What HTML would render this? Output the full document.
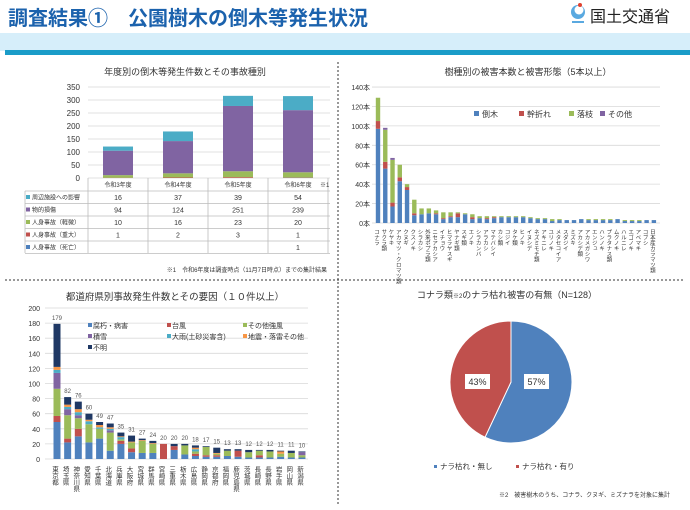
<!DOCTYPE html>
<html><head><meta charset="utf-8">
<style>
html,body{margin:0;padding:0;background:#fff;}
body{width:690px;height:505px;overflow:hidden;position:relative;font-family:"Liberation Sans","Noto Sans CJK JP",sans-serif;}
svg text{font-family:"Liberation Sans","Noto Sans CJK JP",sans-serif;}
</style></head><body>
<svg id="s" width="690" height="505" xmlns="http://www.w3.org/2000/svg">
<rect x="0" y="33" width="690" height="18" fill="#d6eefa"/>
<rect x="5" y="50" width="685" height="5" fill="#1a9cc8"/>
<text x="8" y="25" font-size="20" font-weight="bold" fill="#1b62ad">調査結果①　公園樹木の倒木等発生状況</text>
<circle cx="578" cy="12" r="7" fill="#5aa9e0"/>
<circle cx="579" cy="10" r="4.5" fill="#fff"/>
<circle cx="580" cy="5" r="2" fill="#e0412f"/>
<rect x="572" y="21" width="12" height="2" fill="#5aa9e0"/>
<text x="590" y="22" font-size="16" fill="#222">国土交通省</text>
<line x1="338" y1="62" x2="338" y2="505" stroke="#333" stroke-dasharray="2,2"/>
<line x1="5" y1="280" x2="685" y2="280" stroke="#333" stroke-dasharray="2,2"/>
<g id="g"></g>
</svg>
<script>
var g=document.getElementById('g'),h='';
function T(x,y,s,sz,a,c,ex){h+='<text x="'+x+'" y="'+y+'" font-size="'+sz+'" text-anchor="'+(a||'start')+'" fill="'+(c||'#333')+'" '+(ex||'')+'>'+s+'</text>';}
function R(x,y,w,hh,c){h+='<rect x="'+x+'" y="'+y+'" width="'+w+'" height="'+hh+'" fill="'+c+'"/>';}
function L(x1,y1,x2,y2,c){h+='<line x1="'+x1+'" y1="'+y1+'" x2="'+x2+'" y2="'+y2+'" stroke="'+(c||'#d9d9d9')+'" stroke-width="0.8"/>';}
var TE='#4bacc6',PU='#8064a2',GR='#9bbb59',RE='#c0504d',BL='#4f81bd',OR='#f79646',NV='#1f3864';
// chart1
T(185,75,'年度別の倒木等発生件数とその事故種別',9,'middle');
for(var v=0;v<=350;v+=50){var y=178-v*0.26;L(88,y,330,y);T(80,y+3,v,8,'end');}
var d1=[[0,1,10,94,16],[0,2,16,124,37],[0,3,23,251,39],[1,1,20,239,54]],cs=[BL,RE,GR,PU,TE];
[118,178,238,298].forEach(function(cx,i){var y=178;for(var k=0;k<5;k++){var hh=d1[i][k]*0.26;y-=hh;R(cx-15,y,30,hh,cs[k]);}});
// table
var rows=['周辺施設への影響','物的損傷','人身事故（軽微）','人身事故（重大）','人身事故（死亡）'],rc=[TE,PU,GR,RE,BL];
var tv=[['16','37','39','54'],['94','124','251','239'],['10','16','23','20'],['1','2','3','1'],['','','','1']];
L(88,178,88,253,'#bbb');for(var c=0;c<4;c++){L(148+60*c,178,148+60*c,253,'#bbb');T(118+60*c,187,['令和3年度','令和4年度','令和5年度','令和6年度'][c],6,'middle');}
T(320,187,'※1',6);
for(var r=0;r<5;r++){var y=191+r*12.5;L(25,y,330,y,'#bbb');R(26,y+4,4,4,rc[r]);T(32,y+8.5,rows[r],6);for(c=0;c<4;c++)T(118+60*c,y+9,tv[r][c],7,'middle');}
L(25,253.5,330,253.5,'#bbb');L(25,191,25,253,'#bbb');
T(327,272,'※1　令和6年度は調査時点（11月7日時点）までの集計結果',6,'end');
// chart2
T(528,75,'樹種別の被害本数と被害形態（5本以上）',9,'middle');
for(v=0;v<=140;v+=20){y=223-v*0.971;L(372,y,660,y);T(370,y+3,v+'本',7,'end');}
var n2=['コナラ','サクラ類','ケヤキ','アカマツ・クロマツ類','クヌギ','クスノキ','シラカシ','外来ポプラ類','ニセアカシア','イチョウ','ヒマラヤスギ','ヤナギ類','スギ類','エノキ','シラカンバ','アラカシ','マテバシイ','カシ類','コジイ','タケ類','ヒノキ','イヌシデ','ネズミモチ類','アキニレ','ユリノキ','メタセコイア','スダジイ','ミズキ','アカシデ類','アカメガシワ','エンジュ','ハンノキ','プラタナス類','ムクノキ','ハルニレ','エゴノキ','アベマキ','コブシ','日本産カラマツ類'];
var d2=[[97,8,24,0],[56,7,33,2],[17,4,44,2],[43,4,13,0],[34,3,3,0],[8,2,14,0],[9,0,6,0],[10,0,5,0],[9,1,3,0],[4,1,6,0],[6,1,4,0],[6,4,1,0],[9,0,1,0],[4,2,3,0],[5,0,2,0],[4,1,2,0],[5,1,1,0],[6,0,1,0],[6,0,1,0],[6,0,1,0],[6,0,1,0],[5,0,1,0],[4,0,1,0],[4,0,1,0],[2,0,2,0],[3,0,1,0],[3,0,0,0],[3,0,0,0],[4,0,0,0],[3,0,1,0],[3,0,1,0],[3,0,1,0],[3,0,1,0],[4,0,0,0],[2,0,1,0],[2,0,1,0],[2,0,1,0],[3,0,0,0],[3,0,0,0]];
var c2=[BL,RE,GR,PU];
d2.forEach(function(a,i){var cx=378+i*7.26,y=223;for(var k=0;k<4;k++){var hh=a[k]*0.971;y-=hh;R(cx-2.2,y,4.4,hh,c2[k]);}T(cx-2,229,n2[i],5.5,'start','#333','style="writing-mode:vertical-rl;glyph-orientation-vertical:0"');});
[['倒木',482],['幹折れ',527],['落枝',577],['その他',608]].forEach(function(l,i){R(l[1]-8,111,5,5,c2[i]);T(l[1],117,l[0],8);});
// chart3
T(175,300,'都道府県別事故発生件数とその要因（１０件以上）',9.5,'middle');
for(v=0;v<=200;v+=20){y=459-v*0.755;L(45,y,308,y);T(40,y+3,v,7,'end');}
var n3=['東京都','埼玉県','神奈川県','愛知県','千葉県','北海道','兵庫県','大阪府','宮城県','群馬県','宮崎県','三重県','栃木県','広島県','静岡県','京都府','福岡県','鹿児島県','茨城県','長崎県','長野県','岩手県','岡山県','新潟県'];
var d3=[[49,8,36,21,4,4,57],[22,5,31,8,3,3,10],[30,10,14,4,4,4,10],[22,0,24,0,4,2,8],[27,0,13,0,2,3,4],[11,0,24,3,2,2,5],[20,4,2,0,3,1,5],[9,5,8,0,0,1,8],[8,0,16,0,0,1,2],[8,0,12,0,0,1,3],[0,20,0,0,0,0,0],[12,5,0,0,0,0,3],[6,0,12,0,0,0,2],[4,3,3,0,3,2,3],[3,2,11,0,0,0,1],[3,2,2,0,0,1,7],[4,0,7,0,0,0,2],[3,8,0,0,0,0,2],[2,0,7,0,0,0,3],[2,3,6,0,0,0,1],[2,0,8,0,0,0,2],[3,0,4,0,0,3,1],[2,0,6,0,0,0,3],[2,0,3,4,0,0,1]];
var c3=[BL,RE,GR,PU,TE,OR,NV];
d3.forEach(function(a,i){var cx=57+i*10.65,y=459,t=0;for(var k=0;k<7;k++){var hh=a[k]*0.755;t+=a[k];y-=hh;R(cx-3.5,y,7,hh,c3[k]);}T(cx,y-4,t,6,'middle','#555');T(cx-3,466,n3[i],6.5,'start','#333','style="writing-mode:vertical-rl;glyph-orientation-vertical:0"');});
[['腐朽・病害',93,328],['台風',172,328],['その他強風',248,328],['積雪',93,339],['大雨(土砂災害含)',172,339],['地震・落雷その他',248,339],['不明',93,350]].forEach(function(l,i){R(l[1]-5,l[2]-5,4,4,c3[i]);T(l[1],l[2],l[0],7);});
// pie
T(507,298,'コナラ類<tspan font-size="6">※2</tspan>のナラ枯れ被害の有無（N=128）',9,'middle');
var cx=511,cy=382,r=61,a=0.57*2*Math.PI,ex=cx+r*Math.sin(a),ey=cy-r*Math.cos(a);
h+='<path d="M'+cx+','+cy+' L'+cx+','+(cy-r)+' A'+r+','+r+' 0 1 1 '+ex+','+ey+' Z" fill="'+BL+'" stroke="#fff" stroke-width="1"/>';
h+='<path d="M'+cx+','+cy+' L'+ex+','+ey+' A'+r+','+r+' 0 0 1 '+cx+','+(cy-r)+' Z" fill="'+RE+'" stroke="#fff" stroke-width="1"/>';
R(465,374,25,15,'#fff');T(477.5,385,'43%',9,'middle');R(524,374,25,15,'#fff');T(536.5,385,'57%',9,'middle');
R(434,465,3,3,BL);T(440,469,'ナラ枯れ・無し',7.5);R(516,465,3,3,RE);T(522,469,'ナラ枯れ・有り',7.5);
T(670,497,'※2　被害樹木のうち、コナラ、クヌギ、ミズナラを対象に集計',6,'end');
g.innerHTML=h;
</script>
</body></html>
